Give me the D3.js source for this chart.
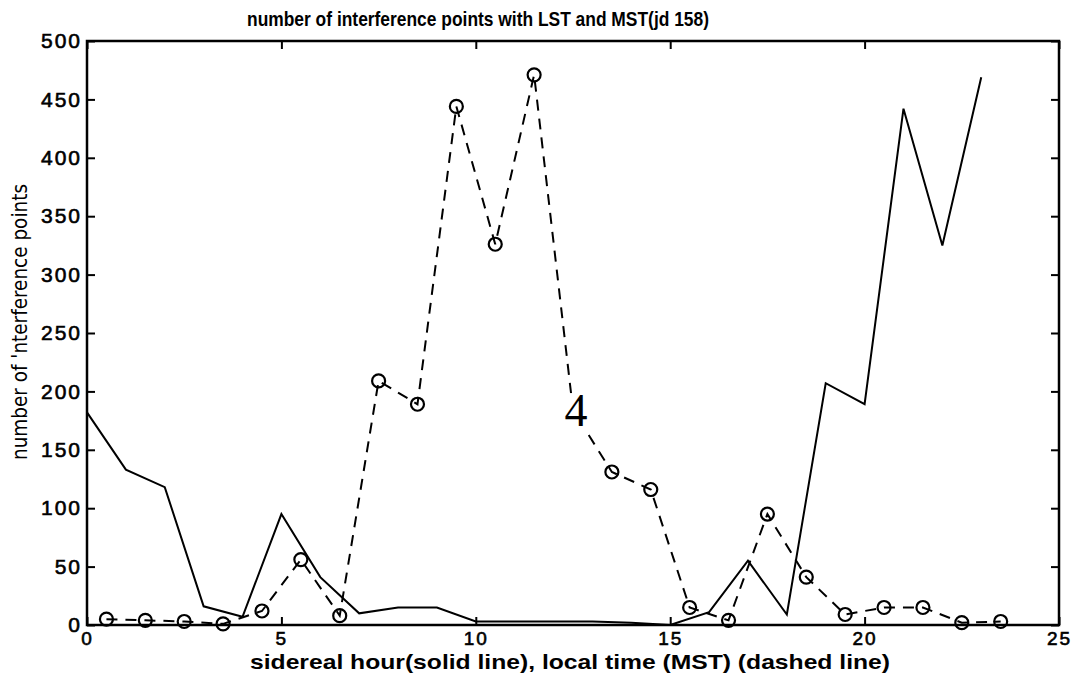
<!DOCTYPE html>
<html>
<head>
<meta charset="utf-8">
<script src="https://cdn.jsdelivr.net/npm/d3@7"></script>
<style>
  body { margin: 0; background: #fff; }
  svg { display: block; }
  .tick text { font-family: "Liberation Sans", Arial, sans-serif; font-size: 21px; letter-spacing: 2px; fill: #000; stroke: #000; stroke-width: 0.6px; }
  .xb .tick text { font-size: 19px; }
</style>
</head>
<body>
<svg></svg>
<script>
// sidereal hour (solid line)
var siderealHours = [0,1,2,3,4,5,6,7,8,9,10,11,12,13,14,15,16,17,18,19,20,21,22,23];
var siderealCounts = [182,133,118,16,7,95,41,10,15,15,3,3,3,3,2,0,11,55,9,207,189,442,325,469];

// local time MST (dashed line)
var localHours = [0.5,1.5,2.5,3.5,4.5,5.5,6.5,7.5,8.5,9.5,10.5,11.5,12.5,13.5,14.5,15.5,16.5,17.5,18.5,19.5,20.5,21.5,22.5,23.5];
var localCounts = [5,4,3,1,12,56,8,209,189,444,326,471,184,131,116,15,4,95,41,9,15,15,2,3];

var xTicks = [0,5,10,15,20,25];
var yTicks = [0,50,100,150,200,250,300,350,400,450,500];

var titleText = 'number of interference points with LST and MST(jd 158)';
var xLabel = 'sidereal hour(solid line), local time (MST) (dashed line)';
var yLabel = "number of 'nterference points";

function start() {
    var svg = d3.select('svg')
        .attr('width', 1080)
        .attr('height', 678);

    var left = 87, right = 1059, top = 41, bottom = 625;

    var x = d3.scaleLinear().domain([0, 25]).range([left, right]);
    var y = d3.scaleLinear().domain([0, 500]).range([bottom, top]);

    // frame
    svg.append('rect')
        .attr('x', left).attr('y', top)
        .attr('width', right - left).attr('height', bottom - top)
        .attr('fill', 'none').attr('stroke', '#000').attr('stroke-width', 2.5);

    // axes with inward ticks
    svg.append('g')
        .attr('class', 'xb')
        .attr('transform', 'translate(0,' + bottom + ')')
        .call(d3.axisBottom(x).tickValues(xTicks).tickSize(-8).tickPadding(7))
        .call(function (g) { g.select('.domain').remove(); });
    svg.append('g')
        .attr('transform', 'translate(0,' + top + ')')
        .call(d3.axisTop(x).tickValues(xTicks).tickSize(-8).tickFormat(''))
        .call(function (g) { g.select('.domain').remove(); });
    svg.append('g')
        .attr('transform', 'translate(' + left + ',0)')
        .call(d3.axisLeft(y).tickValues(yTicks).tickSize(-8).tickPadding(5))
        .call(function (g) { g.select('.domain').remove(); });
    svg.append('g')
        .attr('transform', 'translate(' + right + ',0)')
        .call(d3.axisRight(y).tickValues(yTicks).tickSize(-8).tickFormat(''))
        .call(function (g) { g.select('.domain').remove(); });

    svg.selectAll('.tick line').attr('stroke', '#000').attr('stroke-width', 2);

    var line = d3.line()
        .x(function (d) { return x(d[0]); })
        .y(function (d) { return y(d[1]); });

    var solid = d3.zip(siderealHours, siderealCounts);
    var dashed = d3.zip(localHours, localCounts);

    svg.append('path')
        .datum(solid)
        .attr('d', line)
        .attr('fill', 'none')
        .attr('stroke', '#000')
        .attr('stroke-width', 2);

    svg.append('path')
        .datum(dashed)
        .attr('d', line)
        .attr('fill', 'none')
        .attr('stroke', '#000')
        .attr('stroke-width', 2)
        .attr('stroke-dasharray', '11,8');

    // circle markers (the 12.5 one shows as a stray "4" in the scan)
    svg.selectAll('circle.mk')
        .data(dashed.filter(function (d) { return d[0] !== 12.5; }))
        .enter().append('circle')
        .attr('class', 'mk')
        .attr('cx', function (d) { return x(d[0]); })
        .attr('cy', function (d) { return y(d[1]); })
        .attr('r', 6.5)
        .attr('fill', 'none')
        .attr('stroke', '#000')
        .attr('stroke-width', 2.2);

    var odd = dashed.filter(function (d) { return d[0] === 12.5; })[0];
    svg.append('rect')
        .attr('x', x(odd[0]) - 12).attr('y', y(odd[1]) - 17)
        .attr('width', 26).attr('height', 36)
        .attr('fill', '#fff');
    svg.append('text')
        .attr('x', x(odd[0]) + 3)
        .attr('y', y(odd[1]) + 16)
        .attr('text-anchor', 'middle')
        .style('font-family', '"Liberation Serif", "DejaVu Serif", serif')
        .style('font-size', '46px')
        .text('4');

    // title and labels
    svg.append('text')
        .attr('x', 478)
        .attr('y', 26)
        .attr('text-anchor', 'middle')
        .style('font-family', '"Liberation Sans", Arial, sans-serif')
        .style('font-weight', 'bold')
        .style('font-size', '21px')
        .attr('textLength', 462)
        .attr('lengthAdjust', 'spacingAndGlyphs')
        .text(titleText);

    svg.append('text')
        .attr('x', 570)
        .attr('y', 669)
        .attr('text-anchor', 'middle')
        .style('font-family', '"Liberation Sans", Arial, sans-serif')
        .style('font-weight', 'bold')
        .style('font-size', '21px')
        .attr('textLength', 640)
        .attr('lengthAdjust', 'spacingAndGlyphs')
        .text(xLabel);

    svg.append('text')
        .attr('transform', 'translate(27,322) rotate(-90)')
        .attr('text-anchor', 'middle')
        .style('font-family', '"Liberation Sans Narrow", "DejaVu Sans Condensed", sans-serif')
        .style('font-size', '22px')
        .attr('textLength', 276)
        .attr('lengthAdjust', 'spacingAndGlyphs')
        .text(yLabel);
}

start();
</script>
</body>
</html>
